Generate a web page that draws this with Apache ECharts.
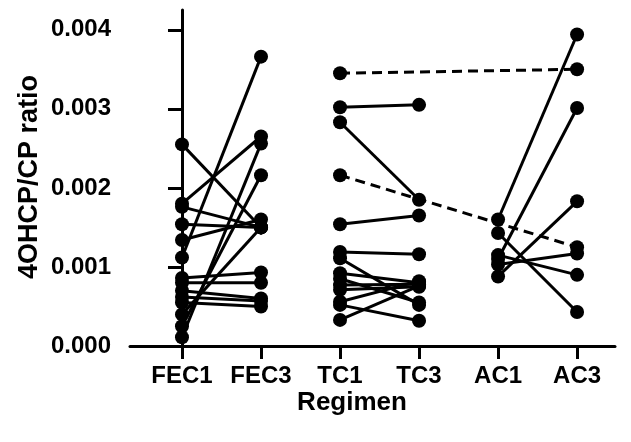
<!DOCTYPE html>
<html>
<head>
<meta charset="utf-8">
<script src="https://cdn.jsdelivr.net/npm/echarts@6/dist/echarts.min.js"></script>
<style>
  html, body { margin: 0; padding: 0; background: #fff; }
  #chart { width: 631px; height: 442px; }
</style>
</head>
<body>
<div id="chart"></div>
<script>
const regimens = ['FEC1', 'FEC3', 'TC1', 'TC3', 'AC1', 'AC3'];
const yTicks = [0, 0.001, 0.002, 0.003, 0.004];

// paired patients, cycle 1 -> cycle 3
const fecCycle1 = [0.00255, 0.00180, 0.00176, 0.00154, 0.00134, 0.00112, 0.00086, 0.00080, 0.00070, 0.00062, 0.00055, 0.00040, 0.00025, 0.00011];
const fecCycle3 = [0.00150, 0.00265, 0.00150, 0.00150, 0.00160, 0.00366, 0.00093, 0.00080, 0.00060, 0.00057, 0.00050, 0.00150, 0.00216, 0.00256];

const tcCycle1 = [0.00302, 0.00283, 0.00154, 0.00119, 0.00111, 0.00092, 0.00085, 0.00077, 0.00071, 0.00056, 0.00052, 0.00033];
const tcCycle3 = [0.00305, 0.00185, 0.00165, 0.00116, 0.00052, 0.00080, 0.00055, 0.00078, 0.00075, 0.00082, 0.00032, 0.00076];

const acCycle1 = [0.00160, 0.00143, 0.00115, 0.00110, 0.00103, 0.00088];
const acCycle3 = [0.00394, 0.00043, 0.00090, 0.00301, 0.00117, 0.00183];

// switched from TC1 to AC3 (dashed)
const switchTC1 = [0.00345, 0.00216];
const switchAC3 = [0.00350, 0.00125];

const font = 'Arial, "Liberation Sans", Helvetica, sans-serif';

function pairSeries(before, after, from, to, dashed) {
  return before.map((v, i) => ({
    type: 'line',
    data: [[from, v], [to, after[i]]],
    symbol: 'circle',
    symbolSize: 14,
    itemStyle: { color: '#000' },
    lineStyle: { color: '#000', width: 3, type: dashed ? [10, 6] : 'solid' },
    silent: true
  }));
}

const series = [].concat(
  pairSeries(switchTC1, switchAC3, 2, 5, true),
  pairSeries(fecCycle1, fecCycle3, 0, 1, false),
  pairSeries(tcCycle1, tcCycle3, 2, 3, false),
  pairSeries(acCycle1, acCycle3, 4, 5, false)
);

const xIdx = regimens.map((r, i) => i);

const chart = echarts.init(document.getElementById('chart'));
chart.setOption({
  animation: false,
  backgroundColor: '#fff',
  grid: { left: 130, right: 16, top: 10, bottom: 96 },
  xAxis: {
    type: 'value',
    min: -0.658,
    max: 5.48,
    splitLine: { show: false },
    axisLine: { show: true, onZero: false, lineStyle: { color: '#000', width: 3 } },
    axisTick: { show: true, customValues: xIdx, length: 13, lineStyle: { color: '#000', width: 3 } },
    axisLabel: {
      customValues: xIdx,
      formatter: v => regimens[Math.round(v)],
      color: '#000', fontFamily: font, fontWeight: 'bold', fontSize: 24, margin: 18
    }
  },
  yAxis: {
    type: 'value',
    min: 0,
    max: 0.00425,
    splitLine: { show: false },
    axisLine: { show: true, lineStyle: { color: '#000', width: 3 } },
    axisTick: { show: true, customValues: yTicks, length: 14, lineStyle: { color: '#000', width: 3 } },
    axisLabel: {
      customValues: yTicks,
      formatter: v => v.toFixed(3),
      color: '#000', fontFamily: font, fontWeight: 'bold', fontSize: 24, margin: 19
    }
  },
  graphic: [
    {
      type: 'text', x: 352, y: 403,
      style: { text: 'Regimen', fill: '#000', font: 'bold 26px ' + font, textAlign: 'center', textVerticalAlign: 'middle' }
    },
    {
      type: 'text', x: 30, y: 177, rotation: Math.PI / 2,
      style: { text: '4OHCP/CP ratio', fill: '#000', font: 'bold 27px ' + font, textAlign: 'center', textVerticalAlign: 'middle' }
    }
  ],
  series: series
});
</script>
</body>
</html>
